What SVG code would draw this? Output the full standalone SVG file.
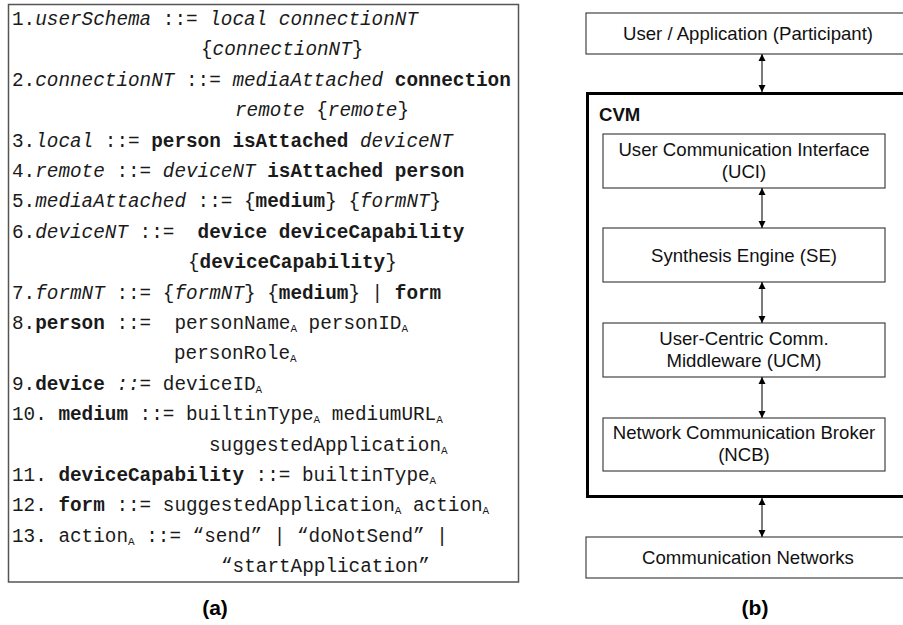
<svg xmlns="http://www.w3.org/2000/svg" width="903" height="625" viewBox="0 0 903 625">
  <style>
    .code { font-family: "Liberation Mono", "Courier New", monospace; font-size: 19.33px; fill: #1a1a1a; white-space: pre; }
    .i { font-style: italic; }
    .b { font-weight: bold; }
    .s { font-size: 11px; }
    .frame { fill: #fff; stroke: #555; stroke-width: 1.5; }
    .box { fill: #fff; stroke: #444; stroke-width: 1.2; }
    .cvm { fill: #fff; stroke: #000; stroke-width: 3; }
    .lbl { font-family: "Liberation Sans", Arial, sans-serif; font-size: 18.6px; fill: #111; text-anchor: middle; }
    .cap { font-family: "Liberation Sans", Arial, sans-serif; font-size: 21px; font-weight: bold; fill: #000; text-anchor: middle; }
    .link { stroke: #222; stroke-width: 1.2; fill: none; marker-start: url(#head); marker-end: url(#head); }
  </style>
  <defs>
    <marker id="head" viewBox="0 0 10 10" refX="10" refY="5" markerWidth="7" markerHeight="10" markerUnits="userSpaceOnUse" orient="auto-start-reverse">
      <path d="M0,0 L10,5 L0,10 z" fill="#000"/>
    </marker>
  </defs>
  <rect width="903" height="625" fill="#fff"/>

  <!-- (a) grammar of the user schema -->
  <g id="grammar">
    <rect class="frame" x="8.5" y="4.5" width="510" height="577.5"/>
    <text class="code" xml:space="preserve">
      <tspan x="12" y="25">1.<tspan class="i">userSchema</tspan> ::= <tspan class="i">local connectionNT</tspan></tspan>
      <tspan x="201" y="55.4">{<tspan class="i">connectionNT</tspan>}</tspan>
      <tspan x="12" y="85.8">2.<tspan class="i">connectionNT</tspan> ::= <tspan class="i">mediaAttached</tspan> <tspan class="b">connection</tspan></tspan>
      <tspan x="235" y="116.2"><tspan class="i">remote</tspan> {<tspan class="i">remote</tspan>}</tspan>
      <tspan x="12" y="146.6">3.<tspan class="i">local</tspan> ::= <tspan class="b">person isAttached</tspan> <tspan class="i">deviceNT</tspan></tspan>
      <tspan x="12" y="177">4.<tspan class="i">remote</tspan> ::= <tspan class="i">deviceNT</tspan> <tspan class="b">isAttached person</tspan></tspan>
      <tspan x="12" y="207.4">5.<tspan class="i">mediaAttached</tspan> ::= {<tspan class="b">medium</tspan>} {<tspan class="i">formNT</tspan>}</tspan>
      <tspan x="12" y="237.8">6.<tspan class="i">deviceNT</tspan> ::=  <tspan class="b">device deviceCapability</tspan></tspan>
      <tspan x="188" y="268.2">{<tspan class="b">deviceCapability</tspan>}</tspan>
      <tspan x="12" y="298.6">7.<tspan class="i">formNT</tspan> ::= {<tspan class="i">formNT</tspan>} {<tspan class="b">medium</tspan>} | <tspan class="b">form</tspan></tspan>
      <tspan x="12" y="329">8.<tspan class="b">person</tspan> ::=  personName<tspan class="s" dy="3">A</tspan><tspan dy="-3"> personID</tspan><tspan class="s" dy="3">A</tspan></tspan>
      <tspan x="174" y="359.4">personRole<tspan class="s" dy="3">A</tspan></tspan>
      <tspan x="12" y="389.8">9.<tspan class="b">device</tspan> <tspan class="i">::=</tspan> deviceID<tspan class="s" dy="3">A</tspan></tspan>
      <tspan x="12" y="420.2">10. <tspan class="b">medium</tspan> ::= builtinType<tspan class="s" dy="3">A</tspan><tspan dy="-3"> mediumURL</tspan><tspan class="s" dy="3">A</tspan></tspan>
      <tspan x="209" y="450.6">suggestedApplication<tspan class="s" dy="3">A</tspan></tspan>
      <tspan x="12" y="481">11. <tspan class="b">deviceCapability</tspan> ::= builtinType<tspan class="s" dy="3">A</tspan></tspan>
      <tspan x="12" y="511.4">12. <tspan class="b">form</tspan> ::= suggestedApplication<tspan class="s" dy="3">A</tspan><tspan dy="-3"> action</tspan><tspan class="s" dy="3">A</tspan></tspan>
      <tspan x="12" y="541.8">13. action<tspan class="s" dy="3">A</tspan><tspan dy="-3"> ::= “send” | “doNotSend” |</tspan></tspan>
      <tspan x="221" y="572.2">“startApplication”</tspan>
    </text>
    <text class="cap" x="215" y="615">(a)</text>
  </g>

  <!-- (b) layered architecture -->
  <g id="user-app">
    <rect class="box" x="586" y="13" width="330" height="41"/>
    <text class="lbl" x="748" y="40">User / Application (Participant)</text>
  </g>

  <g id="cvm">
    <rect class="cvm" x="587.5" y="93.5" width="330" height="403"/>
    <text class="lbl" x="599" y="121" style="text-anchor:start;font-weight:bold">CVM</text>
  </g>

  <g id="uci">
    <rect class="box" x="603" y="134" width="282" height="54"/>
    <text class="lbl" x="744" y="156">User Communication Interface</text>
    <text class="lbl" x="744" y="178">(UCI)</text>
  </g>

  <g id="se">
    <rect class="box" x="603" y="228" width="282" height="54"/>
    <text class="lbl" x="744" y="262">Synthesis Engine (SE)</text>
  </g>

  <g id="ucm">
    <rect class="box" x="603" y="323" width="282" height="54"/>
    <text class="lbl" x="744" y="345">User-Centric Comm.</text>
    <text class="lbl" x="744" y="367">Middleware (UCM)</text>
  </g>

  <g id="ncb">
    <rect class="box" x="603" y="418" width="282" height="53"/>
    <text class="lbl" x="744" y="439">Network Communication Broker</text>
    <text class="lbl" x="744" y="461">(NCB)</text>
  </g>

  <g id="networks">
    <rect class="box" x="586" y="537" width="330" height="41"/>
    <text class="lbl" x="748" y="564">Communication Networks</text>
  </g>

  <text class="cap" x="755" y="615">(b)</text>

  <!-- two-way links between layers -->
  <g id="connectors">
    <line class="link" x1="762" y1="54" x2="762" y2="92"/>
    <line class="link" x1="762" y1="188" x2="762" y2="228"/>
    <line class="link" x1="762" y1="282" x2="762" y2="323"/>
    <line class="link" x1="762" y1="377" x2="762" y2="418"/>
    <line class="link" x1="762" y1="498" x2="762" y2="537"/>
  </g>
</svg>
